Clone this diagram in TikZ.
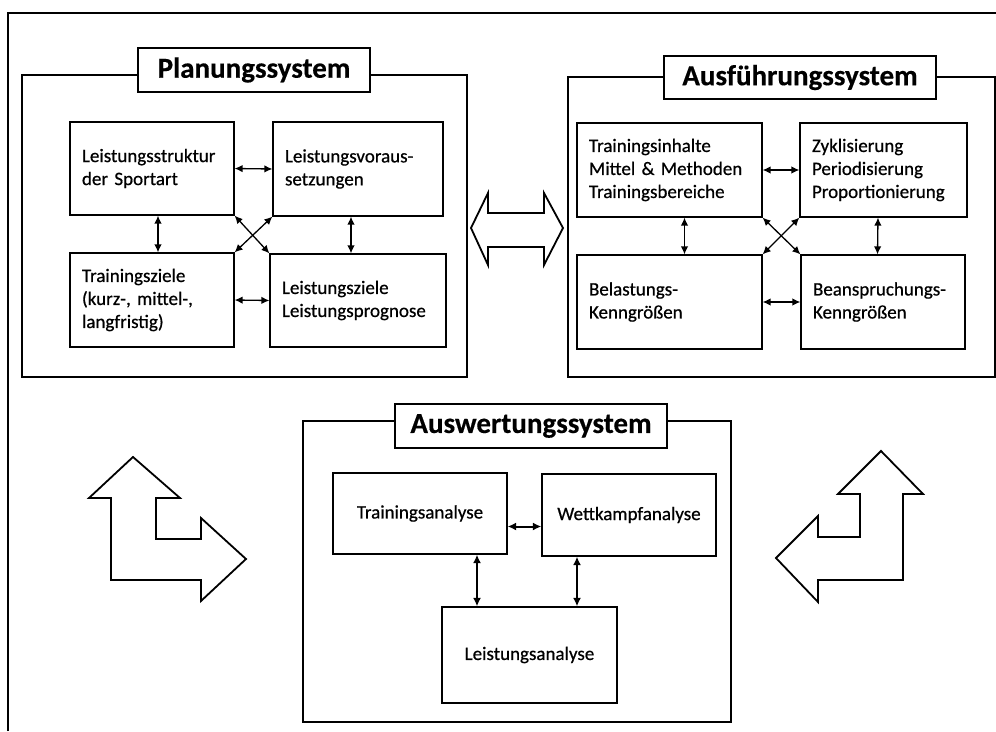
\documentclass[tikz,border=0pt]{standalone}
\usepackage{fontspec}
\setmainfont{Carlito}
\newfontfamily\itemfont{Carlito}[FakeBold=0.6]
\newfontfamily\headfont{Carlito Bold}[FakeBold=0.4]
\usetikzlibrary{arrows.meta,calc}
\begin{document}
\begin{tikzpicture}[x=1pt,y=-1pt,
  sysframe/.style={draw,line width=1.2pt},
  titlebox/.style={draw,line width=1.2pt,fill=white,inner sep=0pt,
    font=\headfont\fontsize{29}{32}\selectfont},
  itembox/.style={draw,line width=1.2pt,inner xsep=12pt,inner ysep=0pt,align=left,
    font=\itemfont\fontsize{19}{23}\selectfont},
  centerbox/.style={draw,line width=1.2pt,inner sep=0pt,align=center,
    font=\itemfont\fontsize{19}{23}\selectfont},
  link/.style={line width=1.3pt,{Latex[length=8pt,width=7.5pt]}-{Latex[length=8pt,width=7.5pt]}},
  boldlink/.style={line width=2pt,{Latex[length=8.5pt,width=8pt]}-{Latex[length=8.5pt,width=8pt]}},
  bigarrow/.style={draw,line width=1.8pt,fill=white,line join=miter}]
\useasboundingbox (0,0) rectangle (996,731);
\fill[white] (0,0) rectangle (996,731);

% page frame
\draw[line width=2.4pt] (8,731) -- (8,13) -- (996,13);

% --- Planungssystem ---
\draw[sysframe] (22,75) rectangle (467,377);
\node[titlebox,minimum width=232pt,minimum height=44pt] (ptitle) at (254,70) {Planungssystem};
\node[itembox,minimum width=164pt,minimum height=93pt,text width=140pt] (pTL) at (152,168.5)
  {Leistungsstruktur\\der Sportart};
\node[itembox,minimum width=170pt,minimum height=94pt,text width=146pt] (pTR) at (358,169)
  {Leistungsvoraus-\\setzungen};
\node[itembox,minimum width=164pt,minimum height=94pt,text width=140pt] (pBL) at (152,300)
  {Trainingsziele\\(kurz-, mittel-,\\langfristig)};
\node[itembox,minimum width=176pt,minimum height=93pt,text width=152pt] (pBR) at (358,300.5)
  {Leistungsziele\\Leistungsprognose};
\draw[link] (pTL.east) -- (pTR.west);
\draw[link] (pBL.east) -- (pBR.west);
\draw[link] ([xshift=6pt]pTL.south) -- ([xshift=6pt]pBL.north);
\draw[link] ([xshift=-7pt]pTR.south) -- ([xshift=-7pt]pBR.north);
\draw[link] (pTL.south east) -- (pBR.north west);
\draw[link] (pTR.south west) -- (pBL.north east);

% --- Ausführungssystem ---
\draw[sysframe] (568,77) rectangle (995,377);
\node[titlebox,minimum width=272pt,minimum height=43pt] (atitle) at (800,77.5) {Ausführungssystem};
\node[itembox,minimum width=185pt,minimum height=94pt,text width=161pt] (aTL) at (669.5,170)
  {Trainingsinhalte\\Mittel \& Methoden\\Trainingsbereiche};
\node[itembox,minimum width=167pt,minimum height=94pt,text width=143pt] (aTR) at (883.5,170)
  {Zyklisierung\\Periodisierung\\Proportionierung};
\node[itembox,minimum width=185pt,minimum height=94pt,text width=161pt] (aBL) at (669.5,302)
  {Belastungs-\\Kenngrößen};
\node[itembox,minimum width=164pt,minimum height=94pt,text width=140pt] (aBR) at (883,302)
  {Beanspruchungs-\\Kenngrößen};
\draw[link] (aTL.east) -- (aTR.west);
\draw[link] (aBL.east) -- (aBR.west);
\draw[link] ([xshift=15pt]aTL.south) -- ([xshift=15pt]aBL.north);
\draw[link] ([xshift=-5.5pt]aTR.south) -- ([xshift=-5.5pt]aBR.north);
\draw[link] (aTL.south east) -- (aBR.north west);
\draw[link] (aTR.south west) -- (aBL.north east);

% --- Auswertungssystem ---
\draw[sysframe] (303,421) rectangle (731,722);
\node[titlebox,minimum width=272pt,minimum height=44pt] (wtitle) at (531,426) {Auswertungssystem};
\node[centerbox,minimum width=174pt,minimum height=81pt] (ta) at (420,513.5) {Trainingsanalyse};
\node[centerbox,minimum width=174pt,minimum height=82pt] (wk) at (629,515) {Wettkampfanalyse};
\node[centerbox,minimum width=175pt,minimum height=96pt] (la) at (529.5,655) {Leistungsanalyse};
\draw[boldlink] ([yshift=-13pt]ta.east) -- ([yshift=-13pt]ta.east -| wk.west);
\draw[boldlink] ([xshift=57pt]ta.south) -- ([xshift=57pt]ta.south |- la.north);
\draw[boldlink] ([xshift=-52pt]wk.south) -- ([xshift=-52pt]wk.south |- la.north);

% --- block arrows between the systems ---
\draw[bigarrow] (471,228) -- (488,193) -- (488,213) -- (544,213) -- (544,193)
  -- (563,228) -- (544,265) -- (544,247) -- (488,247) -- (488,265) -- cycle;
\draw[bigarrow] (133,457) -- (180,498) -- (156,498) -- (156,539) -- (201,539)
  -- (201,518) -- (246,559) -- (201,601) -- (201,580) -- (111,580) -- (111,498)
  -- (89,498) -- cycle;
\draw[bigarrow] (881,451) -- (923,494) -- (903,494) -- (903,580) -- (818,580)
  -- (818,602) -- (776,558) -- (818,516) -- (818,537) -- (860,537) -- (860,494)
  -- (838,494) -- cycle;
\end{tikzpicture}
\end{document}
